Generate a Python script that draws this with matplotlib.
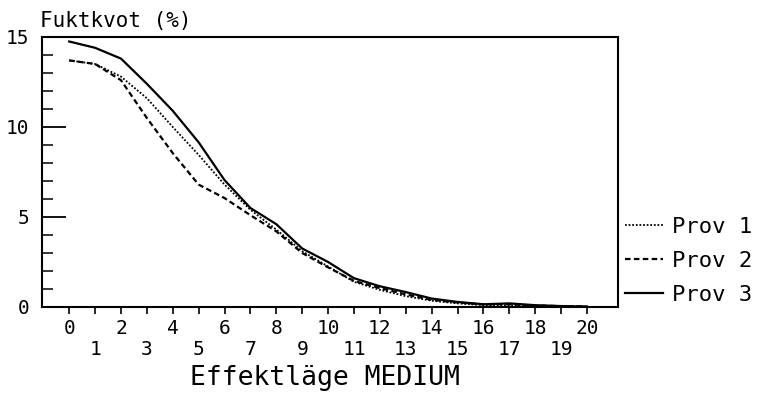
import matplotlib
matplotlib.use("Agg")
import matplotlib.pyplot as plt
from matplotlib.ticker import MultipleLocator

x = list(range(0, 21))
prov1 = [13.7, 13.5, 12.8, 11.6, 10.0, 8.45, 6.8, 5.4, 4.3, 3.1, 2.25, 1.4, 0.95, 0.6, 0.35, 0.2, 0.1, 0.1, 0.05, 0.05, 0.03]
prov2 = [13.7, 13.5, 12.6, 10.5, 8.55, 6.8, 6.05, 5.1, 4.2, 3.0, 2.2, 1.45, 1.05, 0.7, 0.4, 0.25, 0.15, 0.15, 0.08, 0.05, 0.03]
prov3 = [14.75, 14.4, 13.8, 12.4, 10.9, 9.15, 7.05, 5.5, 4.6, 3.25, 2.5, 1.6, 1.15, 0.83, 0.47, 0.28, 0.15, 0.2, 0.1, 0.05, 0.02]
labels = ["Prov 1", "Prov 2", "Prov 3"]
xtick_labels = [str(v) if v % 2 == 0 else "\n" + str(v) for v in x]
yticks = [0, 5, 10, 15]

FONT = "DejaVu Sans Mono"
plt.rcParams['font.family'] = [FONT]

fig = plt.figure(figsize=(7.57, 4.12), dpi=100)
ax = fig.add_axes([0.0555, 0.2549, 0.8164 - 0.0555, 0.9102 - 0.2549])

l1, = ax.plot(x, prov1, color="black", lw=1.3, linestyle=(0, (1, 1)))
l2, = ax.plot(x, prov2, color="black", lw=1.6, linestyle=(0, (2.5, 1.5)))
l3, = ax.plot(x, prov3, color="black", lw=1.6, linestyle="-")

ax.set_xlim(-1.05, 21.2)
ax.set_ylim(0, 15)

ax.set_xticks(x)
ax.set_xticklabels(xtick_labels, fontsize=14, linespacing=1.1)
ax.tick_params(axis="x", direction="out", length=5, width=1.2, pad=4)

ax.set_yticks(yticks)
ax.set_yticklabels([str(v) for v in yticks], fontsize=14)
ax.yaxis.set_minor_locator(MultipleLocator(1))
ax.tick_params(axis="y", which="major", direction="in", length=17, width=1.3, pad=9)
ax.tick_params(axis="y", which="minor", direction="in", length=8, width=1.1)

for s in ax.spines.values():
    s.set_linewidth(1.5)

fig.text(0.053, 1 - 21 / 412, "Fuktkvot (%)", fontsize=15, ha="left", va="center")
fig.text(0.429, 1 - 378 / 412, "Effektläge MEDIUM", fontsize=19, ha="center", va="center")

fig.legend([l1, l2, l3], labels, loc="center left", bbox_to_anchor=(0.8256, 0.3665),
           frameon=False, fontsize=16, handlelength=1.7, handletextpad=0.4,
           labelspacing=0.62, borderaxespad=0, borderpad=0)

fig.savefig("out.png", dpi=100, facecolor="white")
